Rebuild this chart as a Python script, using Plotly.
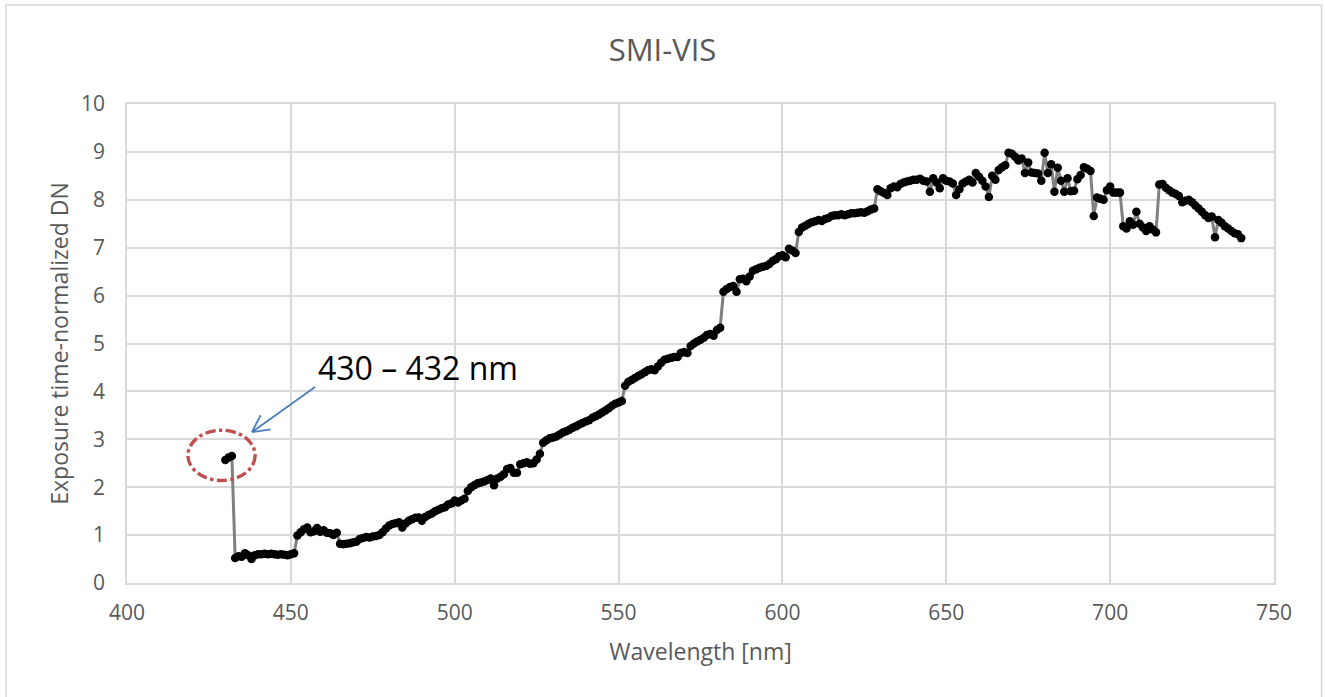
import math
import plotly.graph_objects as go

# Wavelength grid of the SMI-VIS spectrum, 1 nm steps from 430 to 740 nm
wavelength_nm = list(range(430, 741))

# Exposure time-normalized DN per wavelength, one row per 10 nm
dn_values = [
    2.57, 2.62, 2.65, 0.52, 0.56, 0.55, 0.62, 0.58, 0.50, 0.58,   # 430-439
    0.60, 0.60, 0.61, 0.60, 0.61, 0.60, 0.59, 0.60, 0.59, 0.58,   # 440-449
    0.60, 0.62, 0.99, 1.06, 1.12, 1.16, 1.06, 1.08, 1.15, 1.07,   # 450-459
    1.10, 1.05, 1.04, 1.00, 1.05, 0.82, 0.81, 0.82, 0.83, 0.85,   # 460-469
    0.86, 0.92, 0.94, 0.96, 0.95, 0.97, 0.98, 1.00, 1.06, 1.14,   # 470-479
    1.20, 1.23, 1.25, 1.27, 1.16, 1.24, 1.30, 1.33, 1.36, 1.37,   # 480-489
    1.30, 1.38, 1.42, 1.45, 1.50, 1.53, 1.56, 1.58, 1.64, 1.66,   # 490-499
    1.72, 1.68, 1.72, 1.76, 1.92, 2.00, 2.04, 2.08, 2.10, 2.12,   # 500-509
    2.15, 2.18, 2.04, 2.18, 2.22, 2.27, 2.38, 2.40, 2.30, 2.30,   # 510-519
    2.48, 2.50, 2.52, 2.49, 2.50, 2.58, 2.70, 2.93, 2.98, 3.02,   # 520-529
    3.04, 3.06, 3.10, 3.14, 3.17, 3.20, 3.24, 3.27, 3.31, 3.34,   # 530-539
    3.37, 3.40, 3.45, 3.48, 3.52, 3.56, 3.60, 3.65, 3.70, 3.74,   # 540-549
    3.77, 3.80, 4.12, 4.20, 4.24, 4.28, 4.32, 4.36, 4.40, 4.44,   # 550-559
    4.46, 4.44, 4.52, 4.60, 4.66, 4.68, 4.70, 4.72, 4.72, 4.80,   # 560-569
    4.82, 4.80, 4.95, 5.00, 5.04, 5.08, 5.12, 5.18, 5.20, 5.16,   # 570-579
    5.28, 5.33, 6.08, 6.14, 6.18, 6.20, 6.08, 6.34, 6.35, 6.30,   # 580-589
    6.40, 6.52, 6.55, 6.58, 6.60, 6.62, 6.66, 6.72, 6.76, 6.82,   # 590-599
    6.84, 6.80, 6.98, 6.94, 6.89, 7.33, 7.42, 7.46, 7.50, 7.53,   # 600-609
    7.55, 7.58, 7.56, 7.60, 7.62, 7.66, 7.68, 7.68, 7.70, 7.68,   # 610-619
    7.70, 7.72, 7.72, 7.73, 7.74, 7.73, 7.76, 7.80, 7.82, 8.22,   # 620-629
    8.18, 8.14, 8.10, 8.24, 8.28, 8.26, 8.33, 8.36, 8.38, 8.40,   # 630-639
    8.42, 8.42, 8.44, 8.40, 8.38, 8.17, 8.45, 8.36, 8.24, 8.45,   # 640-649
    8.40, 8.38, 8.34, 8.10, 8.22, 8.34, 8.38, 8.42, 8.36, 8.56,   # 650-659
    8.48, 8.40, 8.28, 8.06, 8.50, 8.42, 8.62, 8.68, 8.72, 8.98,   # 660-669
    8.96, 8.90, 8.82, 8.86, 8.56, 8.78, 8.57, 8.56, 8.55, 8.40,   # 670-679
    8.98, 8.56, 8.74, 8.17, 8.67, 8.40, 8.17, 8.45, 8.18, 8.19,   # 680-689
    8.43, 8.52, 8.68, 8.65, 8.60, 7.66, 8.05, 8.02, 8.00, 8.20,   # 690-699
    8.28, 8.15, 8.15, 8.15, 7.45, 7.40, 7.55, 7.48, 7.75, 7.50,   # 700-709
    7.42, 7.35, 7.45, 7.38, 7.32, 8.32, 8.33, 8.25, 8.20, 8.15,   # 710-719
    8.12, 8.08, 7.95, 7.98, 8.00, 7.95, 7.88, 7.82, 7.75, 7.68,   # 720-729
    7.62, 7.65, 7.22, 7.58, 7.52, 7.45, 7.40, 7.35, 7.30, 7.28,   # 730-739
    7.20,                                                         # 740
]

x_ticks = [400, 450, 500, 550, 600, 650, 700, 750]
y_ticks = [0, 1, 2, 3, 4, 5, 6, 7, 8, 9, 10]

chart_title = "SMI-VIS"
x_title = "Wavelength [nm]"
y_title = "Exposure time-normalized DN"
callout_text = "430 – 432 nm"

# Canvas and plot-area geometry
W, H = 1325, 697
M_L, M_R, M_T, M_B = 127, 51, 104, 114
X_RANGE = [400, 750]
Y_RANGE = [0, 10]
px_per_nm = (W - M_L - M_R) / (X_RANGE[1] - X_RANGE[0])
px_per_dn = (H - M_T - M_B) / (Y_RANGE[1] - Y_RANGE[0])

GRID = "#d9d9d9"
TEXT = "#595959"
FONT = "Open Sans"

fig = go.Figure()
fig.add_trace(go.Scatter(
    x=wavelength_nm,
    y=dn_values,
    mode="lines+markers",
    line=dict(color="#808080", width=3),
    marker=dict(color="#000000", size=8.5),
    showlegend=False,
    hoverinfo="x+y",
))

# Dash-dot ellipse around the 430-432 nm samples
fig.add_shape(
    type="circle", xref="x", yref="y",
    x0=418.6, x1=439.1, y0=2.14, y1=3.19,
    line=dict(color="#c0504d", width=3.4, dash="dashdot"),
)

# Blue call-out arrow with an open V head, built in pixel space
tip = (438.1, 3.15)
tail = (457.4, 4.09)
dx_px = (tail[0] - tip[0]) * px_per_nm
dy_px = (tail[1] - tip[1]) * px_per_dn
ang = math.atan2(dy_px, dx_px)
head_len, head_ang = 19, math.radians(27)
arrow_path = f"M {tail[0]},{tail[1]} L {tip[0]},{tip[1]}"
for s in (-1, 1):
    a = ang + s * head_ang
    hx = tip[0] + head_len * math.cos(a) / px_per_nm
    hy = tip[1] + head_len * math.sin(a) / px_per_dn
    arrow_path += f" M {tip[0]},{tip[1]} L {hx},{hy}"
fig.add_shape(
    type="path", xref="x", yref="y", path=arrow_path,
    line=dict(color="#4a7ebb", width=1.8),
)

fig.add_annotation(
    x=457.7, y=4.5, xref="x", yref="y", text=callout_text,
    showarrow=False, xanchor="left", yanchor="middle",
    font=dict(family=FONT, size=32, color="#000000"),
)

# Outer chart frame
fig.add_shape(
    type="rect", xref="paper", yref="paper",
    x0=(6 - M_L) / (W - M_L - M_R), x1=(1321.5 - M_L) / (W - M_L - M_R),
    y0=-0.5, y1=(H - 5 - M_B) / (H - M_T - M_B),
    line=dict(color="#d9d9d9", width=1.5), layer="below",
)

fig.update_layout(
    width=W, height=H,
    margin=dict(l=M_L, r=M_R, t=M_T, b=M_B, pad=0),
    paper_bgcolor="white", plot_bgcolor="white",
    font=dict(family=FONT, color=TEXT),
    title=dict(text=chart_title, x=0.5, xanchor="center",
               y=1 - 50 / H, yanchor="middle",
               font=dict(family=FONT, size=31, color=TEXT)),
)
fig.update_xaxes(
    range=X_RANGE, tickvals=x_ticks, ticks="",
    showgrid=True, gridcolor=GRID, gridwidth=1.5,
    showline=True, linecolor=GRID, linewidth=1.5, mirror=True,
    zeroline=False, tickfont=dict(size=21, color=TEXT), ticklabelstandoff=10,
    title=dict(text=x_title, font=dict(size=23, color=TEXT), standoff=19),
)
fig.update_yaxes(
    range=Y_RANGE, tickvals=y_ticks, ticks="",
    showgrid=True, gridcolor=GRID, gridwidth=1.5,
    showline=True, linecolor=GRID, linewidth=1.5, mirror=True,
    zeroline=False, tickfont=dict(size=21, color=TEXT), ticklabelstandoff=16,
    title=dict(text=y_title, font=dict(size=23, color=TEXT), standoff=6),
)

fig.write_html("out.html")
